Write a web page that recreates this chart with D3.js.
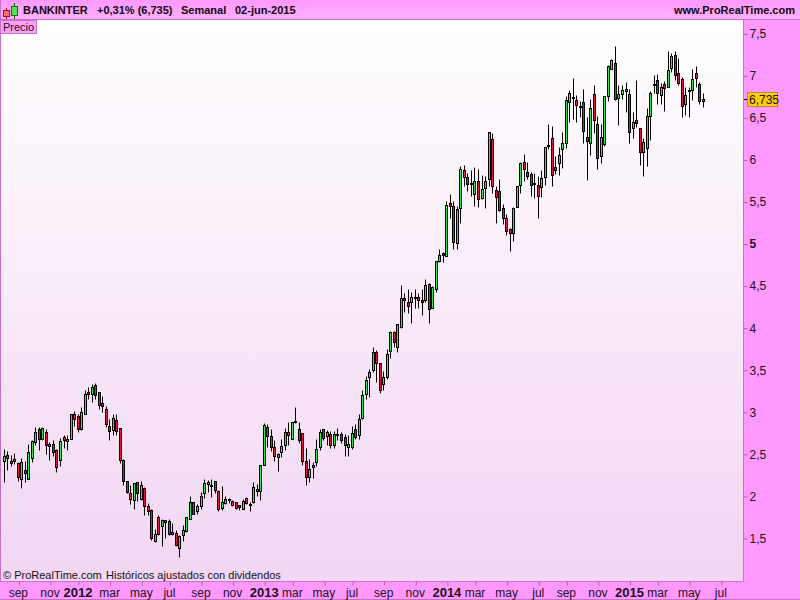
<!DOCTYPE html>
<html>
<head>
<meta charset="utf-8">
<script src="https://cdn.jsdelivr.net/npm/d3@7"></script>
<style>
  html, body { margin: 0; padding: 0; background: #ff99ff; }
  svg { display: block; font-family: "Liberation Sans", Arial, sans-serif; }
</style>
</head>
<body>
<div id="chart"></div>
<script>
// weekly candles, first one is the week of 8 aug 2011, last one 1 jun 2015
const firstWeek = "2011-08-08";
const lastWeek = "2015-06-01";

const opens = [
  2.42,2.49,2.41,2.44,2.39,2.20,2.31,2.20,2.45,2.64,
  2.79,2.68,2.76,2.59,2.62,2.55,2.43,2.70,2.65,2.68,
  2.97,2.95,2.79,2.97,3.23,3.21,3.32,3.23,3.10,3.03,
  2.83,2.78,2.90,2.81,2.43,2.18,2.03,1.95,2.17,1.96,
  2.09,1.88,1.83,1.47,1.75,1.64,1.71,1.70,1.57,1.56,
  1.38,1.53,1.58,1.72,1.93,1.82,1.88,2.03,2.14,2.13,
  2.18,2.06,1.86,1.92,1.95,1.94,1.93,1.89,1.85,1.97,
  1.90,1.93,2.08,2.06,2.37,2.82,2.71,2.58,2.46,2.52,
  2.60,2.76,2.68,2.88,2.79,2.75,2.41,2.23,2.34,2.40,
  2.58,2.79,2.71,2.74,2.61,2.73,2.74,2.70,2.58,2.58,
  2.79,2.72,2.93,3.21,3.41,3.50,3.71,3.58,3.33,3.41,
  3.72,3.95,3.77,4.01,4.35,4.30,4.30,4.36,4.37,4.33,
  4.33,4.52,4.23,4.46,4.79,4.89,4.85,5.48,5.45,5.01,
  5.42,5.87,5.79,5.71,5.59,5.74,5.54,5.66,5.77,6.24,
  5.64,5.62,5.42,5.30,5.17,5.12,5.43,5.70,5.97,5.85,
  5.83,5.72,5.70,5.67,5.79,6.16,6.25,5.91,5.96,6.12,
  6.20,6.68,6.73,6.71,6.62,6.68,6.27,6.19,6.78,6.42,
  6.04,6.18,6.75,7.07,7.15,6.73,6.78,6.81,6.78,6.38,
  6.47,6.38,6.09,6.14,6.52,6.88,6.94,6.77,6.90,6.86,
  7.09,7.24,7.03,6.96,6.66,6.81,6.82,7.03,6.90,6.69
];
const highs = [
  2.56,2.54,2.49,2.51,2.40,2.45,2.41,2.62,2.67,2.82,
  2.82,2.82,2.79,2.64,2.66,2.56,2.69,2.73,2.72,2.98,
  3.01,2.98,3.06,3.26,3.29,3.33,3.34,3.23,3.19,3.07,
  2.91,2.98,2.97,2.81,2.44,2.18,2.13,2.15,2.17,2.18,
  2.11,1.92,1.84,1.61,1.77,1.72,1.71,1.72,1.68,1.60,
  1.54,1.65,1.75,2.00,1.93,1.90,2.05,2.20,2.19,2.20,
  2.18,2.07,2.12,2.00,1.98,1.95,1.93,1.89,1.96,1.99,
  1.93,2.17,2.14,2.37,2.87,2.85,2.79,2.66,2.51,2.68,
  2.81,2.88,2.88,3.06,2.88,2.75,2.57,2.44,2.40,2.68,
  2.79,2.80,2.78,2.77,2.77,2.81,2.76,2.74,2.73,2.83,
  2.86,2.97,3.26,3.43,3.51,3.77,3.74,3.58,3.48,3.75,
  3.96,3.96,4.04,4.51,4.41,4.46,4.42,4.46,4.41,4.46,
  4.58,4.53,4.49,4.79,4.93,4.90,5.51,5.59,5.51,5.45,
  5.92,5.94,5.84,5.87,5.91,5.89,5.81,5.80,6.33,6.31,
  5.68,5.77,5.47,5.35,5.18,5.43,5.68,5.97,6.07,5.97,
  5.85,5.84,5.80,5.87,6.15,6.42,6.40,6.04,6.15,6.33,
  6.75,6.82,6.97,6.77,6.70,6.84,6.50,6.72,6.89,6.52,
  6.42,6.76,7.12,7.20,7.35,6.89,6.89,6.92,6.84,6.57,
  6.94,6.38,6.25,6.61,6.81,7.00,7.02,6.91,6.93,7.29,
  7.26,7.29,7.21,6.98,6.86,6.86,7.07,7.11,6.92,6.79
];
const lows = [
  2.16,2.31,2.36,2.38,2.18,2.09,2.17,2.20,2.40,2.61,
  2.55,2.67,2.50,2.43,2.48,2.28,2.36,2.57,2.55,2.68,
  2.83,2.76,2.78,2.97,3.15,3.12,3.15,3.03,3.00,2.82,
  2.67,2.72,2.72,2.39,2.13,2.03,1.90,1.85,1.94,1.95,
  1.77,1.77,1.48,1.45,1.54,1.41,1.50,1.54,1.54,1.40,
  1.28,1.46,1.57,1.72,1.78,1.78,1.84,1.97,2.05,1.99,
  2.04,1.82,1.83,1.90,1.92,1.88,1.85,1.83,1.84,1.90,
  1.82,1.92,2.00,1.95,2.37,2.58,2.53,2.41,2.30,2.46,
  2.55,2.61,2.68,2.87,2.63,2.37,2.13,2.17,2.21,2.36,
  2.55,2.67,2.61,2.57,2.57,2.67,2.63,2.48,2.47,2.56,
  2.68,2.68,2.91,3.15,3.18,3.47,3.35,3.22,3.26,3.39,
  3.64,3.77,3.71,4.00,4.19,4.17,4.06,4.24,4.23,4.15,
  4.30,4.06,4.23,4.43,4.78,4.78,4.85,5.30,4.94,4.93,
  5.25,5.69,5.62,5.56,5.45,5.43,5.53,5.42,5.68,5.60,
  5.25,5.39,5.23,5.10,4.91,5.03,5.43,5.60,5.74,5.77,
  5.57,5.54,5.30,5.55,5.70,6.12,5.68,5.83,5.82,5.90,
  6.14,6.44,6.48,6.44,6.50,6.19,5.76,6.05,6.31,5.89,
  5.96,6.16,6.70,7.07,6.71,6.41,6.72,6.56,6.20,6.25,
  6.39,5.93,5.80,5.92,6.23,6.79,6.66,6.66,6.58,6.86,
  7.04,6.94,6.89,6.50,6.53,6.51,6.71,6.86,6.66,6.62
];
const closes = [
  2.47,2.45,2.39,2.41,2.22,2.40,2.27,2.52,2.65,2.76,
  2.68,2.81,2.60,2.62,2.52,2.34,2.65,2.66,2.68,2.97,
  2.92,2.80,3.00,3.21,3.21,3.29,3.20,3.08,3.07,2.85,
  2.77,2.93,2.77,2.43,2.18,2.05,1.96,2.15,2.03,2.13,
  1.88,1.82,1.50,1.55,1.55,1.71,1.69,1.55,1.55,1.42,
  1.52,1.59,1.75,1.93,1.79,1.88,2.00,2.15,2.17,2.13,
  2.07,1.84,1.93,1.96,1.96,1.89,1.86,1.87,1.94,1.92,
  1.91,2.11,2.06,2.37,2.84,2.71,2.58,2.48,2.50,2.59,
  2.76,2.73,2.88,2.89,2.66,2.41,2.22,2.32,2.37,2.56,
  2.76,2.69,2.76,2.61,2.74,2.74,2.66,2.60,2.62,2.75,
  2.70,2.91,3.20,3.38,3.47,3.71,3.58,3.26,3.41,3.69,
  3.95,3.83,4.04,4.35,4.33,4.26,4.36,4.37,4.33,4.30,
  4.51,4.22,4.48,4.79,4.87,4.86,5.46,5.45,5.02,5.41,
  5.89,5.79,5.71,5.72,5.75,5.53,5.65,5.74,6.33,5.68,
  5.55,5.40,5.31,5.15,5.12,5.42,5.68,5.96,5.89,5.80,
  5.70,5.72,5.56,5.78,6.15,6.17,5.81,5.87,6.05,6.19,
  6.71,6.79,6.74,6.65,6.63,6.34,6.22,6.61,6.47,6.02,
  6.27,6.75,7.11,7.18,6.72,6.78,6.82,6.84,6.33,6.44,
  6.43,6.09,6.21,6.52,6.79,6.90,6.79,6.86,6.85,7.06,
  7.23,7.01,6.91,6.63,6.77,6.82,6.96,6.97,6.69,6.72
];

const priceTicks = [1.5, 2, 2.5, 3, 3.5, 4, 4.5, 5, 5.5, 6, 6.5, 7, 7.5];
const monthTicks = [
  "2011-09-05","2011-11-07","2012-01-02","2012-03-05","2012-05-07","2012-07-02",
  "2012-09-03","2012-11-05","2013-01-07","2013-03-04","2013-05-06","2013-07-01",
  "2013-09-02","2013-11-04","2014-01-06","2014-03-03","2014-05-05","2014-07-07",
  "2014-09-01","2014-11-03","2015-01-05","2015-03-02","2015-05-04","2015-07-06"
];
const monthLabels = [
  "sep","nov","2012","mar","may","jul",
  "sep","nov","2013","mar","may","jul",
  "sep","nov","2014","mar","may","jul",
  "sep","nov","2015","mar","may","jul"
];
const lastLabel = "6,735";

const width = 800;
const height = 600;
const plot = { left: 1, right: 743, top: 20, bottom: 581 };
const border = "#c870c8";

const parseDay = d3.utcParse("%Y-%m-%d");
const start = parseDay(firstWeek);
const candles = closes.map((c, i) => ({
  date: d3.utcDay.offset(start, i * 7),
  open: opens[i],
  high: highs[i],
  low: lows[i],
  close: c
}));

const x = d3.scaleUtc()
  .domain([start, parseDay(lastWeek)])
  .range([4.3, 703.3]);

const y = d3.scaleLinear()
  .domain([1.5, 7.5])
  .range([538, 33.3]);

// snap to the pixel grid so wicks stay 1px wide
const px = d => Math.floor(x(d)) + 0.5;
const py = v => Math.round(y(v)) + 0.5;

const svg = d3.select("#chart")
  .append("svg")
  .attr("width", width)
  .attr("height", height);

const defs = svg.append("defs");
const bgGrad = defs.append("linearGradient")
  .attr("id", "bg")
  .attr("x1", 0).attr("y1", 0).attr("x2", 0).attr("y2", 1);
bgGrad.append("stop").attr("offset", 0).attr("stop-color", "#ffffff");
bgGrad.append("stop").attr("offset", 1).attr("stop-color", "#f2d6f2");

const headGrad = defs.append("linearGradient")
  .attr("id", "head")
  .attr("x1", 0).attr("y1", 0).attr("x2", 0).attr("y2", 1);
headGrad.append("stop").attr("offset", 0).attr("stop-color", "#ff99ff");
headGrad.append("stop").attr("offset", 1).attr("stop-color", "#ffb0ff");

svg.append("rect")
  .attr("width", width)
  .attr("height", height)
  .attr("fill", "#ff99ff");

svg.append("rect")
  .attr("x", plot.left)
  .attr("y", plot.top)
  .attr("width", plot.right - plot.left)
  .attr("height", plot.bottom - plot.top)
  .attr("fill", "url(#bg)");

svg.append("rect")
  .attr("width", width)
  .attr("height", plot.top - 1)
  .attr("fill", "url(#head)");

// plot frame
svg.append("path")
  .attr("d", `M0.5,${plot.top - 0.5}H${width}M0.5,0V${plot.bottom + 0.5}H${plot.right + 0.5}V${plot.top}M0,${height - 0.5}H${width}`)
  .attr("fill", "none")
  .attr("stroke", border);

// candles
const candle = svg.append("g")
  .selectAll("g")
  .data(candles)
  .join("g");

candle.append("line")
  .attr("x1", d => px(d.date))
  .attr("x2", d => px(d.date))
  .attr("y1", d => py(d.high))
  .attr("y2", d => py(d.low))
  .attr("stroke", "#000");

candle.append("rect")
  .attr("x", d => px(d.date) - 1)
  .attr("width", 2)
  .attr("y", d => py(Math.max(d.open, d.close)))
  .attr("height", d => Math.max(py(Math.min(d.open, d.close)) - py(Math.max(d.open, d.close)), 1))
  .attr("fill", d => d.close >= d.open ? "#22f044" : "#f01048")
  .attr("stroke", "#000");

// price axis
const yAxis = svg.append("g")
  .attr("transform", `translate(${plot.right + 0.5},0.5)`)
  .call(d3.axisRight(y)
    .tickValues(priceTicks)
    .tickSize(4)
    .tickPadding(2)
    .tickFormat(d => String(d).replace(".", ",")));

yAxis.select(".domain").remove();
yAxis.selectAll(".tick line").attr("stroke", "#b060b0");
yAxis.selectAll(".tick text")
  .attr("fill", "#201020")
  .style("font-size", "12px")
  .style("font-weight", d => d === 5 ? "bold" : "normal")
  .style("font-family", "'Liberation Sans', Arial, sans-serif");

// time axis
const xAxis = svg.append("g")
  .attr("transform", `translate(0.5,${plot.bottom + 0.5})`)
  .call(d3.axisBottom(x)
    .tickValues(monthTicks.map(parseDay))
    .tickSize(4)
    .tickPadding(4)
    .tickFormat((d, i) => monthLabels[i]));

xAxis.select(".domain").remove();
xAxis.selectAll(".tick line").attr("stroke", "#b060b0");
xAxis.selectAll(".tick text")
  .attr("fill", "#201020")
  .attr("x", -1)
  .attr("y", 15)
  .attr("dy", 0)
  .style("font-size", (d, i) => /^\d/.test(monthLabels[i]) ? "13px" : "12px")
  .style("font-weight", (d, i) => /^\d/.test(monthLabels[i]) ? "bold" : "normal")
  .style("font-family", "'Liberation Sans', Arial, sans-serif");

// last price marker
const lastY = py(closes[closes.length - 1]);
svg.append("line")
  .attr("x1", plot.right + 1)
  .attr("x2", plot.right + 5)
  .attr("y1", lastY)
  .attr("y2", lastY)
  .attr("stroke", "#000");
svg.append("rect")
  .attr("x", 747.5)
  .attr("y", lastY - 7)
  .attr("width", 30)
  .attr("height", 14)
  .attr("fill", "#ffcc00")
  .attr("stroke", "#b8893a");
svg.append("text")
  .attr("x", 749)
  .attr("y", lastY + 4.5)
  .style("font-size", "12px")
  .attr("fill", "#201020")
  .text(lastLabel);

// header icon, a red and a green candle
const icon = svg.append("g");
icon.append("path").attr("d", "M6.5,8V19").attr("stroke", "#a01020");
icon.append("rect").attr("x", 3.5).attr("y", 10.5).attr("width", 6).attr("height", 6)
  .attr("fill", "#f87070").attr("stroke", "#a01020");
icon.append("path").attr("d", "M14.5,3V19").attr("stroke", "#087008");
icon.append("rect").attr("x", 11.5).attr("y", 6.5).attr("width", 6).attr("height", 9)
  .attr("fill", "#50e850").attr("stroke", "#087008");

const header = [
  { t: "BANKINTER", x: 23 },
  { t: "+0,31% (6,735)", x: 97 },
  { t: "Semanal", x: 181 },
  { t: "02-jun-2015", x: 235 }
];
svg.append("g")
  .selectAll("text")
  .data(header)
  .join("text")
  .attr("x", d => d.x)
  .attr("y", 14)
  .attr("fill", "#100810")
  .style("font-size", "11px")
  .style("font-weight", "bold")
  .text(d => d.t);

svg.append("text")
  .attr("x", 795)
  .attr("y", 14)
  .attr("text-anchor", "end")
  .attr("fill", "#100810")
  .style("font-size", "11px")
  .style("font-weight", "bold")
  .text("www.ProRealTime.com");

// "Precio" tag
svg.append("rect")
  .attr("x", 0.5)
  .attr("y", 20.5)
  .attr("width", 36)
  .attr("height", 13)
  .attr("fill", "#ffa0ff")
  .attr("stroke", border);
svg.append("text")
  .attr("x", 3)
  .attr("y", 31)
  .attr("fill", "#201020")
  .style("font-size", "11px")
  .text("Precio");

const footer = [
  { t: "© ProRealTime.com", x: 3 },
  { t: "Históricos ajustados con dividendos", x: 106 }
];
svg.append("g")
  .selectAll("text")
  .data(footer)
  .join("text")
  .attr("x", d => d.x)
  .attr("y", 579)
  .attr("fill", "#201020")
  .style("font-size", "11px")
  .text(d => d.t);
</script>
</body>
</html>
